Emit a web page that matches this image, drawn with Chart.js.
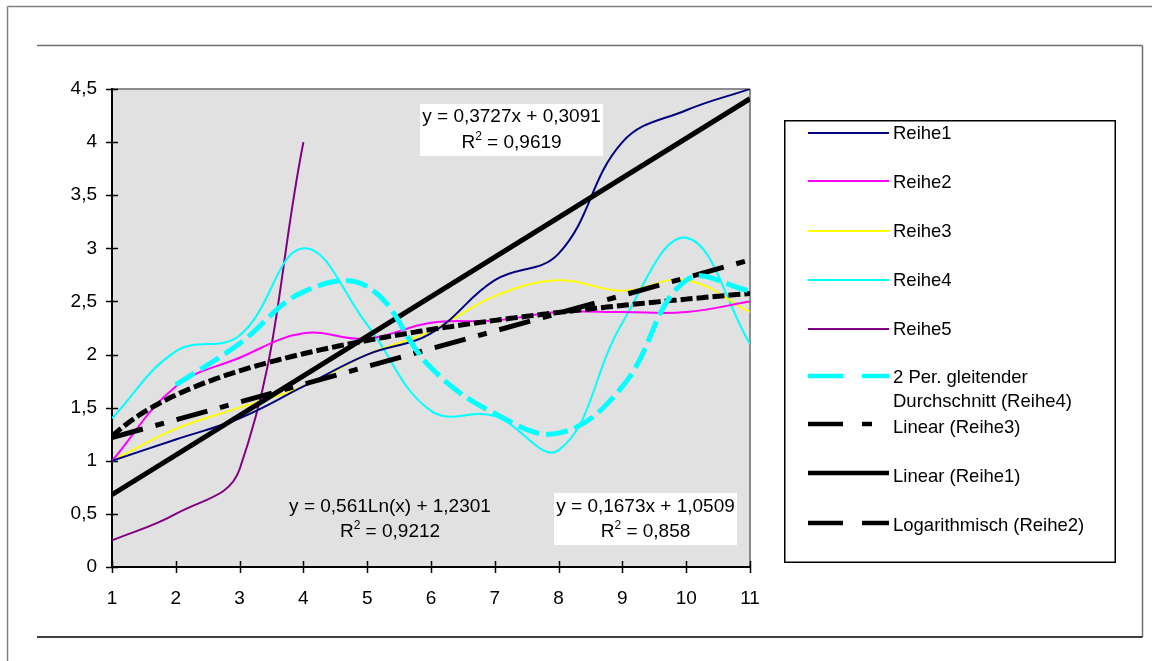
<!DOCTYPE html>
<html>
<head>
<meta charset="utf-8">
<script src="https://cdn.jsdelivr.net/npm/chart.js@4"></script>
<style>
  html, body { margin: 0; padding: 0; background: #ffffff; }
  #wrap { position: relative; width: 1152px; height: 661px; }
</style>
</head>
<body>
<div id="wrap"><canvas id="chart" width="1152" height="661"></canvas></div>
<script>
// ---- data ----
const xValues = [1, 2, 3, 4, 5, 6, 7, 8, 9, 10, 11];
const reihe1 = [1.0, 1.2, 1.4, 1.7, 2.0, 2.2, 2.7, 2.95, 4.0, 4.3, 4.5];
const reihe2 = [1.0, 1.7, 1.97, 2.2, 2.15, 2.3, 2.32, 2.4, 2.4, 2.4, 2.5];
const reihe3 = [1.0, 1.3, 1.5, 1.7, 2.0, 2.22, 2.55, 2.7, 2.6, 2.7, 2.4];
const reihe4 = [1.4, 2.03, 2.18, 3.0, 2.28, 1.47, 1.42, 1.1, 2.3, 3.1, 2.1];
const reihe5 = [0.25, 0.5, 0.92, 4.0];

// trendline coefficients [slope/factor, intercept] and R²
const linearReihe1 = [0.3727, 0.3091];
const linearReihe3 = [0.1673, 1.0509];
const logReihe2 = [0.561, 1.2301];
const rSquared = [0.9619, 0.858, 0.9212]; // Linear(Reihe1), Linear(Reihe3), Log(Reihe2)

const xTickValues = [1, 2, 3, 4, 5, 6, 7, 8, 9, 10, 11];
const xTickLabels = ['1', '2', '3', '4', '5', '6', '7', '8', '9', '10', '11'];
const yTickValues = [0, 0.5, 1, 1.5, 2, 2.5, 3, 3.5, 4, 4.5];
const yTickLabels = ['0', '0,5', '1', '1,5', '2', '2,5', '3', '3,5', '4', '4,5'];

const legendLabels = [
  ['Reihe1'], ['Reihe2'], ['Reihe3'], ['Reihe4'], ['Reihe5'],
  ['2 Per. gleitender', 'Durchschnitt (Reihe4)'],
  ['Linear (Reihe3)'], ['Linear (Reihe1)'], ['Logarithmisch (Reihe2)']
];

// ---- derived point lists ----
const pts = (ys) => ys.map((y, i) => ({ x: xValues[i], y: y }));
const fmt = (n) => String(n).replace('.', ',');

// 2-period moving average of Reihe4
const movingAvg4 = [];
for (let i = 1; i < reihe4.length; i++) {
  movingAvg4.push({ x: xValues[i], y: (reihe4[i - 1] + reihe4[i]) / 2 });
}
const x0 = xValues[0], x1 = xValues[xValues.length - 1];
const linePts = (c) => [{ x: x0, y: c[0] * x0 + c[1] }, { x: x1, y: c[0] * x1 + c[1] }];
const logPts = [];
for (let k = x0 * 20; k <= x1 * 20; k++) {
  const x = k / 20;
  logPts.push({ x: x, y: logReihe2[0] * Math.log(x) + logReihe2[1] });
}

const FONT = '"Liberation Sans", Arial, sans-serif';

const seriesStyle = { borderWidth: 2, pointRadius: 0, tension: 0.4, fill: false, order: 1 };
const datasets = [
  Object.assign({ label: 'Reihe1', data: pts(reihe1), borderColor: '#000080' }, seriesStyle),
  Object.assign({ label: 'Reihe2', data: pts(reihe2), borderColor: '#ff00ff' }, seriesStyle),
  Object.assign({ label: 'Reihe3', data: pts(reihe3), borderColor: '#ffff00' }, seriesStyle),
  Object.assign({ label: 'Reihe4', data: pts(reihe4), borderColor: '#00ffff' }, seriesStyle),
  Object.assign({ label: 'Reihe5', data: pts(reihe5), borderColor: '#800080' }, seriesStyle),
  { label: '2 Per. gleitender Durchschnitt (Reihe4)', data: movingAvg4, borderColor: '#00ffff',
    borderWidth: 5, borderDash: [22, 7], pointRadius: 0, tension: 0.4, order: 0 },
  { label: 'Linear (Reihe3)', data: linePts(linearReihe3), borderColor: '#000000',
    borderWidth: 5, borderDash: [32, 13, 9, 13], pointRadius: 0, tension: 0, order: 0 },
  { label: 'Linear (Reihe1)', data: linePts(linearReihe1), borderColor: '#000000',
    borderWidth: 5, pointRadius: 0, tension: 0, order: 0 },
  { label: 'Logarithmisch (Reihe2)', data: logPts, borderColor: '#000000',
    borderWidth: 5, borderDash: [12, 4], pointRadius: 0, tension: 0, order: 0 }
];

// legend sample dash for each entry
const legendDash = [[], [], [], [], [], [35, 19], [35, 19, 10, 19], [], [35, 19]];
const legendWidth = [2, 2, 2, 2, 2, 4.5, 4.5, 4.5, 4.5];
const legendSampleY = [133, 181, 231, 280, 329, 376, 424, 473, 523];
const legendTextY = [[134], [183], [232], [281], [330], [378, 402], [428], [477], [526]];

function line(ctx, xa, ya, xb, yb) {
  ctx.beginPath(); ctx.moveTo(xa, ya); ctx.lineTo(xb, yb); ctx.stroke();
}

function drawR2(ctx, cx, y, value) {
  const big = '19px ' + FONT, small = '12px ' + FONT;
  ctx.font = big;
  const wR = ctx.measureText('R').width;
  const rest = ' = ' + fmt(value);
  const wRest = ctx.measureText(rest).width;
  ctx.font = small;
  const w2 = ctx.measureText('2').width;
  const start = cx - (wR + w2 + wRest) / 2;
  ctx.textAlign = 'left';
  ctx.textBaseline = 'middle';
  ctx.font = big;
  ctx.fillText('R', start, y);
  ctx.font = small;
  ctx.fillText('2', start + wR, y - 6);
  ctx.font = big;
  ctx.fillText(rest, start + wR + w2, y);
}

function drawEquation(ctx, cx, y1, y2, eq, r2, box) {
  if (box) {
    ctx.fillStyle = '#ffffff';
    ctx.fillRect(box[0], box[1], box[2], box[3]);
  }
  ctx.fillStyle = '#000000';
  ctx.font = '19px ' + FONT;
  ctx.textAlign = 'center';
  ctx.textBaseline = 'middle';
  ctx.fillText(eq, cx, y1);
  drawR2(ctx, cx, y2, r2);
}

const decorPlugin = {
  id: 'decor',
  beforeDraw(chart) {
    const ctx = chart.ctx;
    ctx.save();
    ctx.fillStyle = '#ffffff';
    ctx.fillRect(0, 0, chart.width, chart.height);
    // outer frame
    ctx.strokeStyle = '#808080';
    ctx.lineWidth = 1.5;
    line(ctx, 7.5, 6.5, 1152, 6.5);
    line(ctx, 7.5, 6.5, 7.5, 661);
    // inner frame
    ctx.lineWidth = 1.5;
    ctx.strokeStyle = '#707070';
    line(ctx, 37, 45.5, 1142.5, 45.5);
    line(ctx, 1142.5, 45.5, 1142.5, 637);
    ctx.strokeStyle = '#000000';
    line(ctx, 37, 637, 1142.5, 637);
    // plot area
    const a = chart.chartArea;
    ctx.fillStyle = '#e1e1e1';
    ctx.fillRect(a.left, a.top, a.right - a.left, a.bottom - a.top);
    ctx.restore();
  },
  beforeDatasetsDraw(chart) {
    const ctx = chart.ctx, a = chart.chartArea;
    const xs = chart.scales.x, ys = chart.scales.y;
    ctx.save();
    ctx.strokeStyle = '#8c8c8c';
    ctx.lineWidth = 2;
    line(ctx, a.left, a.top, a.right, a.top);
    line(ctx, a.right, a.top, a.right, a.bottom);
    ctx.strokeStyle = '#000000';
    line(ctx, a.left, a.top - 1, a.left, a.bottom + 1);
    line(ctx, a.left - 1, a.bottom, a.right + 1, a.bottom);
    ctx.lineWidth = 1.5;
    xTickValues.forEach(v => {
      const px = Math.round(xs.getPixelForValue(v)) + 0.5;
      line(ctx, px, a.bottom - 6, px, a.bottom + 6);
    });
    yTickValues.forEach(v => {
      const py = Math.round(ys.getPixelForValue(v)) + 0.5;
      line(ctx, a.left - 6, py, a.left + 6, py);
    });
    ctx.restore();
  },
  afterDraw(chart) {
    const ctx = chart.ctx;
    ctx.save();
    // trendline equations
    drawEquation(ctx, 511.5, 117, 143,
      'y = ' + fmt(linearReihe1[0]) + 'x + ' + fmt(linearReihe1[1]), rSquared[0], [420, 104, 183, 52]);
    drawEquation(ctx, 645.5, 507, 532,
      'y = ' + fmt(linearReihe3[0]) + 'x + ' + fmt(linearReihe3[1]), rSquared[1], [554, 493, 183, 52]);
    drawEquation(ctx, 390, 507, 532,
      'y = ' + fmt(logReihe2[0]) + 'Ln(x) + ' + fmt(logReihe2[1]), rSquared[2], null);

    // legend
    ctx.fillStyle = '#ffffff';
    ctx.fillRect(785, 121, 330, 441);
    ctx.strokeStyle = '#000000';
    ctx.lineWidth = 1.5;
    ctx.strokeRect(784.75, 120.75, 330.5, 441.5);
    chart.data.datasets.forEach((ds, i) => {
      ctx.strokeStyle = ds.borderColor;
      ctx.lineWidth = legendWidth[i];
      ctx.setLineDash(legendDash[i]);
      const y = legendSampleY[i];
      line(ctx, 808, y, 889, y);
      ctx.setLineDash([]);
      ctx.fillStyle = '#000000';
      ctx.font = '18.5px ' + FONT;
      ctx.textAlign = 'left';
      ctx.textBaseline = 'middle';
      legendLabels[i].forEach((t, k) => ctx.fillText(t, 893, legendTextY[i][k]));
    });
    ctx.restore();
  }
};

new Chart(document.getElementById('chart'), {
  type: 'line',
  data: { datasets: datasets },
  plugins: [decorPlugin],
  options: {
    responsive: false,
    animation: false,
    events: [],
    layout: { padding: { left: 62, right: 402, top: 89, bottom: 44 } },
    plugins: { legend: { display: false }, tooltip: { enabled: false }, title: { display: false } },
    scales: {
      x: {
        type: 'linear', min: 1, max: 11,
        afterBuildTicks: (s) => { s.ticks = xTickValues.map(v => ({ value: v })); },
        afterFit: (s) => { s.height = 50; },
        grid: { display: false, drawTicks: false },
        border: { display: false },
        ticks: {
          callback: (v) => xTickLabels[xTickValues.indexOf(v)],
          color: '#000000', font: { family: FONT, size: 19 }, padding: 20,
          maxRotation: 0, autoSkip: false
        }
      },
      y: {
        type: 'linear', min: 0, max: 4.5,
        afterBuildTicks: (s) => { s.ticks = yTickValues.map(v => ({ value: v })); },
        afterFit: (s) => { s.width = 50; },
        grid: { display: false, drawTicks: false },
        border: { display: false },
        ticks: {
          callback: (v) => yTickLabels[yTickValues.indexOf(v)],
          color: '#000000', font: { family: FONT, size: 19 }, padding: 15,
          autoSkip: false
        }
      }
    }
  }
});
</script>
</body>
</html>
